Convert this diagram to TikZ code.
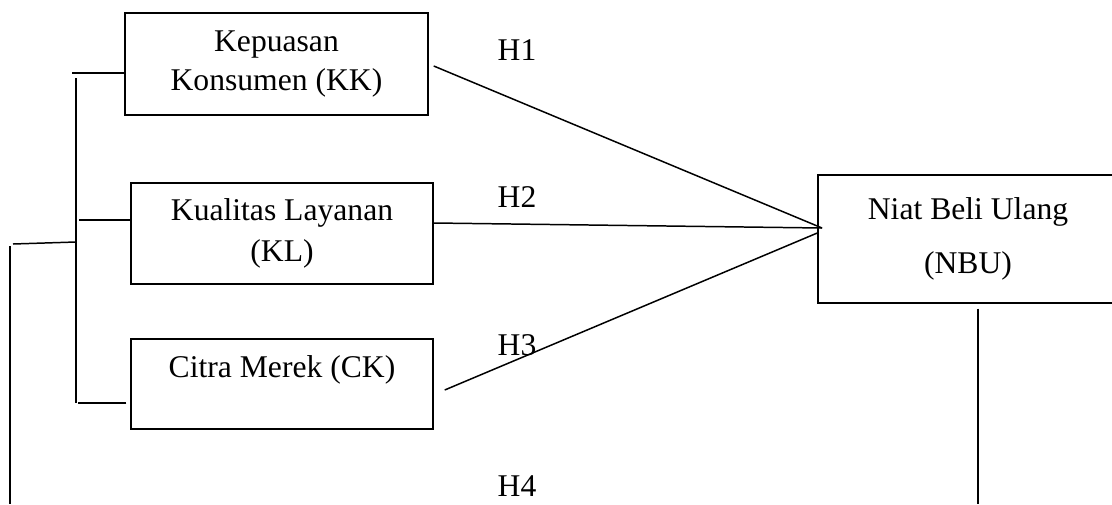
\documentclass[tikz,border=0pt]{standalone}
\usepackage{fontspec}
\setmainfont{Liberation Serif}
\usetikzlibrary{positioning}

\begin{document}
\begin{tikzpicture}[
		x=0.02cm,y=-0.02cm,line width=0.85pt,
		font=\fontsize{18}{22}\selectfont,
		box/.style={draw,inner sep=0pt,align=center}]
		\useasboundingbox (0,0) rectangle (1112,504);
		\node [box,minimum width=6.06cm,minimum height=2.04cm](kk) at (276.5,64){Kepuasan\\Konsumen (KK)};
		\node [box,minimum width=6.04cm,minimum height=2.02cm](kl) at (282,233.5){Kualitas Layanan\\[1pt](KL)};
		\node [box,minimum width=6.04cm,minimum height=1.8cm](ck) at (282,384){};
		\node (ckText) at (282,370){Citra Merek (CK)};
		\node [box,minimum width=6cm,minimum height=2.56cm](nbu) at (968,239){Niat Beli Ulang\\[9pt](NBU)};
		\node (h1) at (517,50){H1};
		\node (h2) at (517,197){H2};
		\node (h3) at (517,345){H3};
		\node (h4) at (517,486){H4};
		\coordinate (hub) at (822,228);
		\draw ([shift={(5,2)}]kk.east) -- (hub);
		\draw ([shift={(0,-10.5)}]kl.east) -- (hub);
		\draw ([shift={(11,6)}]ck.east) -- ([shift={(0,-6)}]nbu.west);
		\coordinate (brTop) at (76,78);
		\coordinate (brBot) at (76,403);
		\coordinate (spine) at (76,242);
		\coordinate (leftFoot) at (10,504);
		\coordinate (nbuFoot) at (978,504);
		\draw (brTop) -- (brBot);
		\draw ([shift={(0,9)}]kk.west) -- ++(-52,0);
		\draw ([shift={(0,-13.5)}]kl.west) -- ++(-51,0);
		\draw ([shift={(-4,19)}]ck.west) -- ++(-48,0);
		\draw (spine) -- ++(-63,2);
		\draw ([shift={(-66,4)}]spine) -- (leftFoot);
		\draw ([shift={(10,5)}]nbu.south) -- (nbuFoot);
		\end{tikzpicture}
\end{document}
